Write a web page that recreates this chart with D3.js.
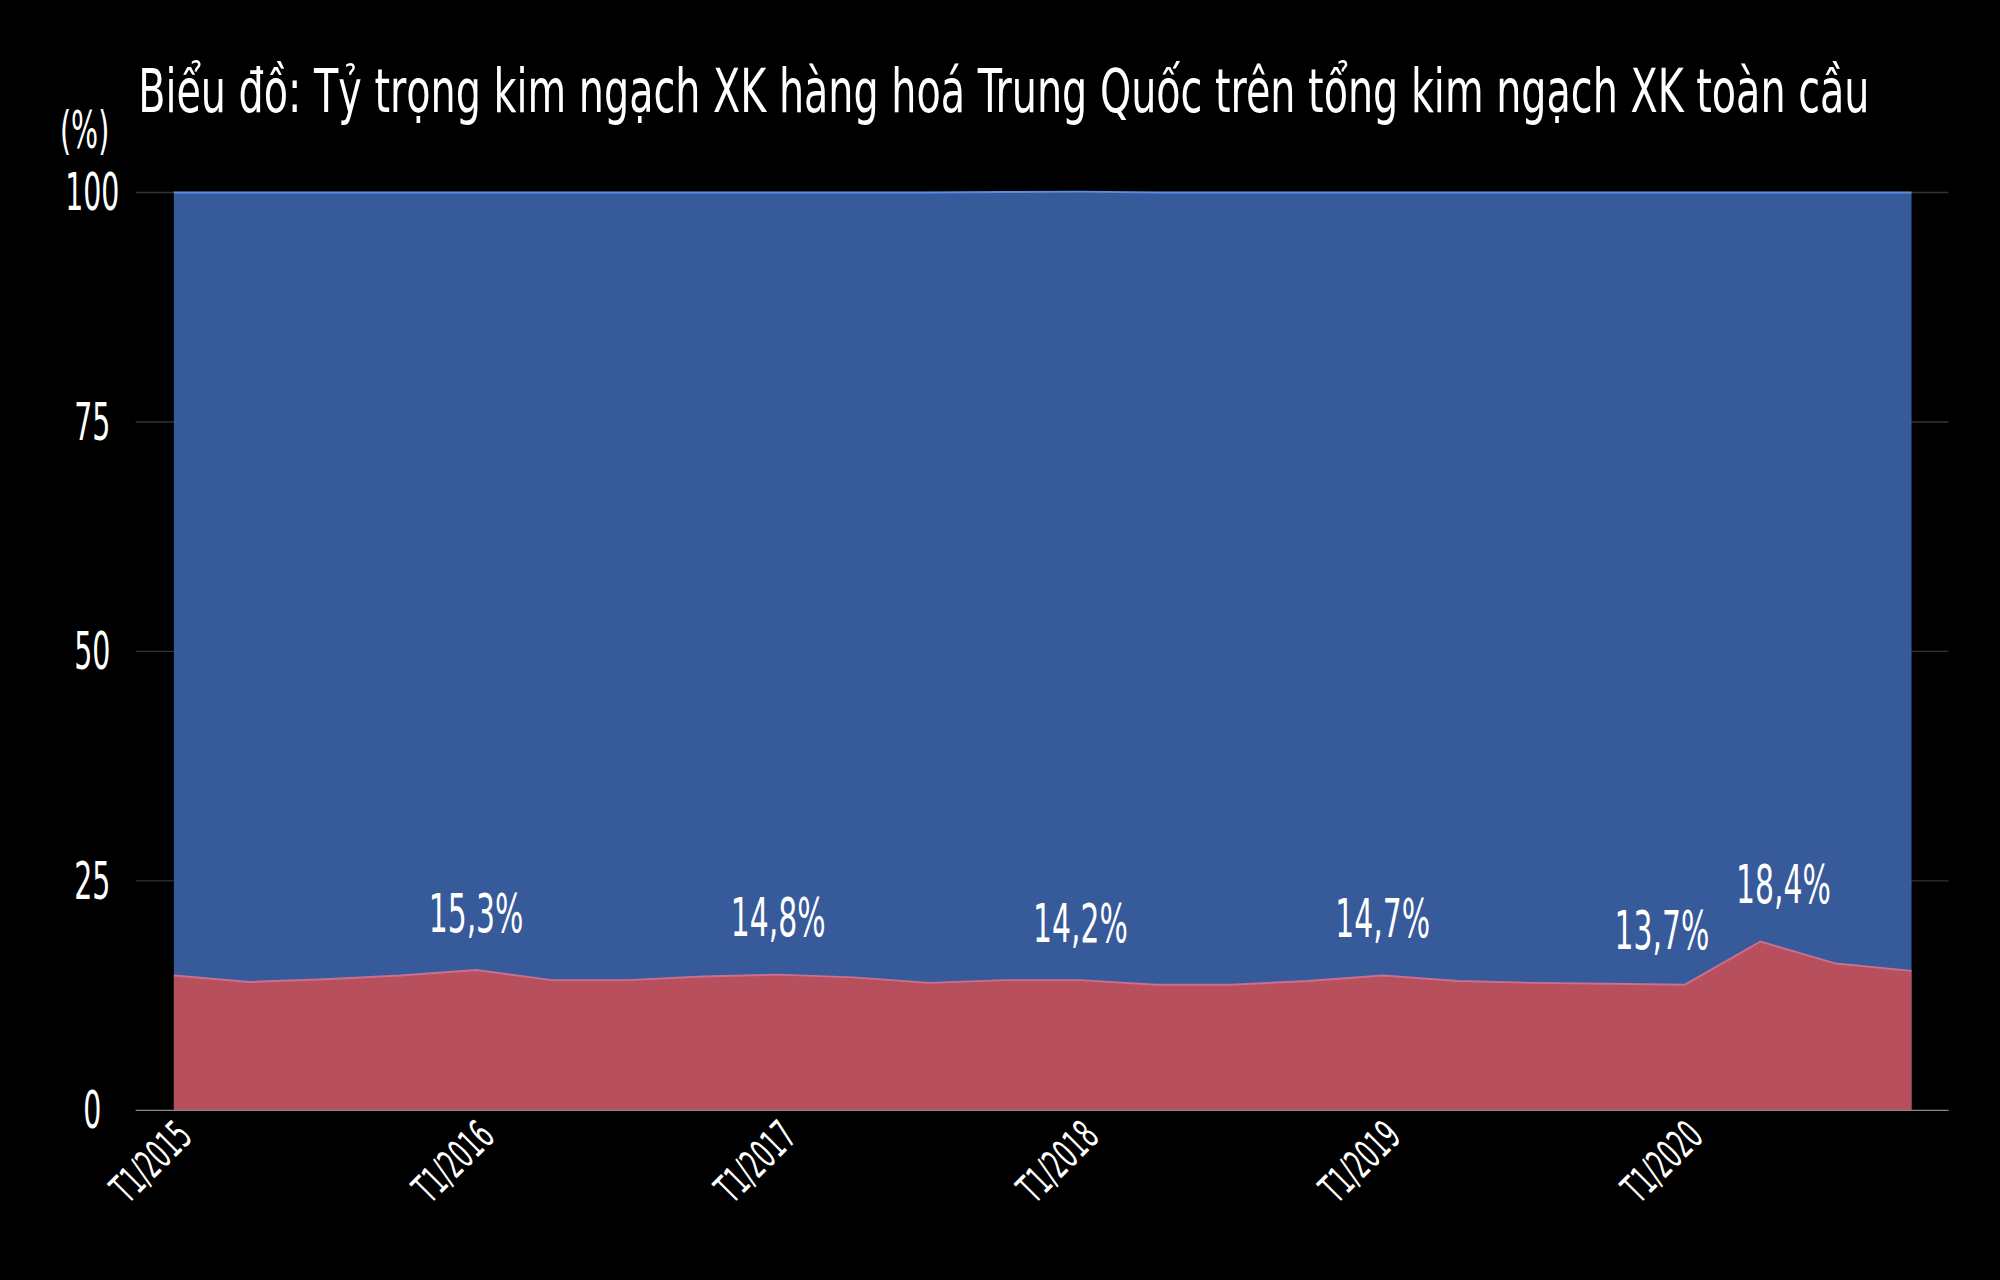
<!DOCTYPE html>
<html><head><meta charset="utf-8">
<script src="https://cdn.jsdelivr.net/npm/d3@7"></script>
<style>body{margin:0;background:#000}svg{display:block}text{font-family:"DejaVu Sans Condensed","DejaVu Sans",sans-serif;fill:#fff;font-weight:200}</style>
</head><body><svg id="c" width="2000" height="1280" viewBox="0 0 1568 1004"></svg>
<script>
const quarters = d3.range(24);
const chinaShare = [14.7,14.0,14.3,14.7,15.3,14.2,14.2,14.6,14.8,14.5,13.9,14.2,14.2,13.7,13.7,14.1,14.7,14.1,13.9,13.8,13.7,18.4,16.0,15.2];
const totalShare = [100,100,100,100,100,100,100,100,100,100,100,100.05,100.1,100,100,100,100,100,100,100,100,100,100,100];
const yTicks = [0,25,50,75,100];
const xTickIdx = [0,4,8,12,16,20];
const xTickLabels = ["T1/2015","T1/2016","T1/2017","T1/2018","T1/2019","T1/2020"];
const labelIdx = [4,8,12,16,20,21];

const svg = d3.select("#c");
svg.append("rect").attr("width",1568).attr("height",1004).attr("fill","#000");
const x = d3.scaleLinear().domain([0,23]).range([136,1499]);
const y = d3.scaleLinear().domain([0,100]).range([871,151]);
const SX = 0.62;
function txt(tx,ty,str,size,anchor,rot){
  const g = svg.append("g").attr("transform",`translate(${tx},${ty})${rot?` rotate(${rot})`:""} scale(${SX},1)`);
  return g.append("text").attr("text-anchor",anchor||"start").attr("font-size",size).text(str);
}

svg.selectAll(".g").data(yTicks.slice(1)).join("line").attr("x1",106).attr("x2",1528)
  .attr("y1",d=>y(d)).attr("y2",d=>y(d)).attr("stroke","#333").attr("stroke-width",1);

const area = (vals)=>d3.area().x((d,i)=>x(i)).y0(y(0)).y1((d)=>y(d))(vals);
svg.append("path").attr("d",area(totalShare)).attr("fill","#375a9a");
svg.append("path").attr("d",d3.line().x((d,i)=>x(i)).y(d=>y(d))(totalShare)).attr("fill","none").attr("stroke","#5b8ee0").attr("stroke-width",1.5);
svg.append("path").attr("d",area(chinaShare)).attr("fill","#b74f5c");
svg.append("path").attr("d",d3.line().x((d,i)=>x(i)).y(d=>y(d))(chinaShare)).attr("fill","none").attr("stroke","#c97090").attr("stroke-width",1.5);

svg.append("line").attr("x1",106).attr("x2",1528).attr("y1",y(0)).attr("y2",y(0)).attr("stroke","#888");

yTicks.forEach(d=>txt(72,y(d)+14,d,40,"middle"));
txt(66,116,"(%)",40,"middle");

xTickIdx.forEach((ix,k)=>txt(x(ix)+16,y(0)+22,xTickLabels[k],32,"end",-45));

labelIdx.forEach(i=>{
  const v = chinaShare[i];
  let lx = x(i), ly = y(v)-30;
  if(i===20){lx -= 18; ly = y(v)-28;}
  if(i===21){lx += 18;}
  txt(lx,ly,String(v.toFixed(1)).replace(".",",")+"%",42,"middle");
});

svg.append("text").attr("x",108).attr("y",88).attr("font-size",48)
  .attr("textLength",1358).attr("lengthAdjust","spacingAndGlyphs")
  .text("Biểu đồ: Tỷ trọng kim ngạch XK hàng hoá Trung Quốc trên tổng kim ngạch XK toàn cầu");
</script></body></html>
